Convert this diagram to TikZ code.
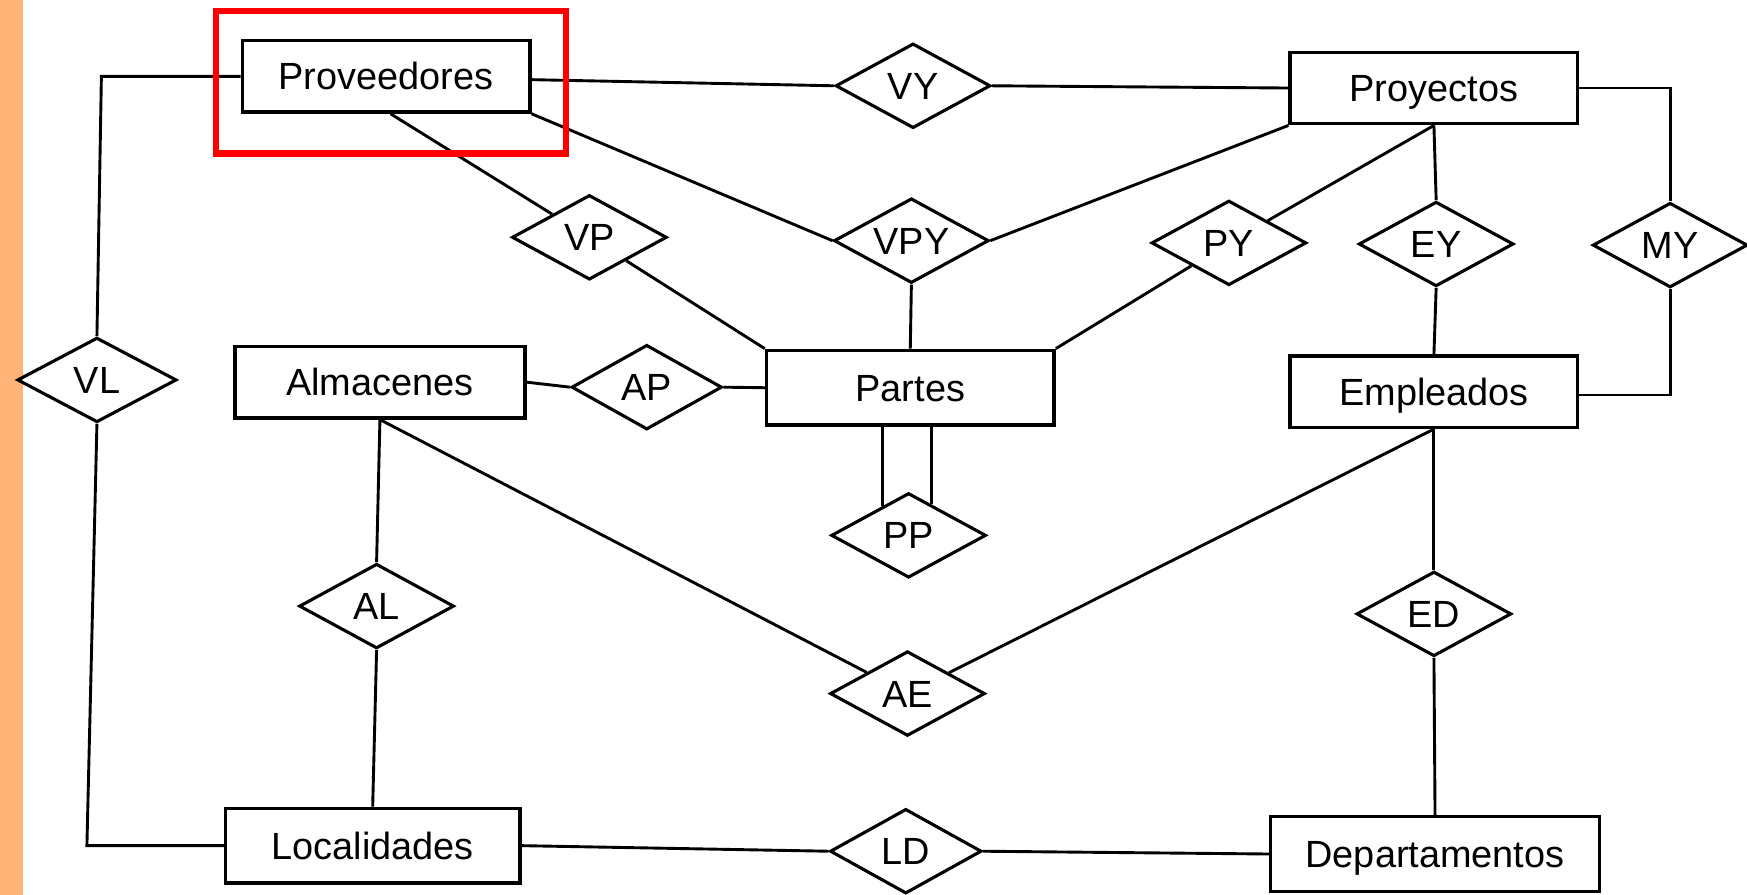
\documentclass[tikz,border=0pt]{standalone}
\usepackage{fontspec}
\setmainfont{Liberation Sans}
\usetikzlibrary{shapes.geometric,calc}
\definecolor{stripe}{RGB}{255,179,119}
\definecolor{hl}{RGB}{255,0,0}
\begin{document}
\begin{tikzpicture}[x=1pt,y=-1pt,
  ent/.style={draw, line width=3.2pt, rectangle, minimum width=258pt, minimum height=64pt, inner sep=0pt,
    font=\fontsize{34}{40}\selectfont, text height=24.3pt, text depth=0pt},
  rel/.style={draw, line width=2.8pt, diamond, aspect=1.82, minimum width=139pt, minimum height=76pt, inner sep=0pt,
    font=\fontsize{34}{40}\selectfont, text height=24.3pt, text depth=0pt},
  link/.style={line width=2.6pt}]
\useasboundingbox (0,0) rectangle (1568,803);
\fill[white] (0,0) rectangle (1568,803);
\fill[stripe] (0,0) rectangle (20.6,803);

% entities
\node[ent] (prov) at (346.5,68.5) {Proveedores};
\node[ent] (proy) at (1287,79) {Proyectos};
\node[ent, minimum width=260pt] (alm) at (341,343) {Almacenes};
\node[ent, minimum height=67pt] (partes) at (817,348) {Partes};
\node[ent] (emp) at (1287,351.5) {Empleados};
\node[ent, minimum width=264pt, minimum height=67pt] (loc) at (334.5,759) {Localidades};
\node[ent, minimum width=295pt, minimum height=67pt] (dep) at (1288,766.5) {Departamentos};

% relationships
\node[rel] (vy) at (819.5,77) {VY};
\node[rel] (vp) at (529,213) {VP};
\node[rel] (vpy) at (818,216) {VPY};
\node[rel] (py) at (1103,218) {PY};
\node[rel] (ey) at (1289,219) {EY};
\node[rel] (my) at (1499,220) {MY};
\node[rel, minimum width=143pt] (vl) at (87,341) {VL};
\node[rel, minimum width=135pt] (ap) at (580.5,347.5) {AP};
\node[rel] (pp) at (815.5,480.5) {PP};
\node[rel] (al) at (338,544) {AL};
\node[rel] (ae) at (814.5,622.5) {AE};
\node[rel] (ed) at (1287,551) {ED};
\node[rel, minimum width=136pt] (ld) at (813,764) {LD};

% helper corners
\coordinate (c1) at (91,68.5);
\coordinate (c2) at (78,759);
\coordinate (pl) at ($(pp.west)!0.675!(pp.north)$);
\coordinate (pr) at ($(pp.north)!0.29!(pp.east)$);

% connectors
\draw[link] (prov.west) -- (c1) -- (vl.north);
\draw[link] (vl.south) -- (c2) -- (loc.west);
\draw[link] ([yshift=-3pt]prov.east) -- (vy.west);
\draw[link] (vy.east) -- (proy.west);
\draw[link] ([xshift=4pt]prov.south) -- (vp);
\draw[link] (prov.south east) -- (vpy.west);
\draw[link] (vp) -- (partes.north west);
\draw[link] (vpy.south) -- (partes.north);
\draw[link] (vpy.east) -- (proy.south west);
\draw[link] (proy.south) -- (py);
\draw[link] (py) -- (partes.north east);
\draw[link] (proy.south) -- (ey.north);
\draw[link] (proy.east) -| (my.north);
\draw[link] (ey.south) -- (emp.north);
\draw[link] (my.south) |- ([yshift=-3pt]emp.east);
\draw[link] (alm.east) -- (ap.west);
\draw[link] (ap.east) -- (partes.west);
\draw[link] (pl) -- (pl |- partes.south);
\draw[link] (pr) -- (pr |- partes.south);
\draw[link] (alm.south) -- (al.north);
\draw[link] (al.south) -- (loc.north);
\draw[link] (alm.south) -- (ae);
\draw[link] (ae) -- (emp.south);
\draw[link] (emp.south) -- (ed.north);
\draw[link] (ed.south) -- (dep.north);
\draw[link] (loc.east) -- (ld.west);
\draw[link] (ld.east) -- (dep.west);

% highlight
\draw[hl, line width=6pt] (194,10) rectangle (508,138);
\end{tikzpicture}
\end{document}
